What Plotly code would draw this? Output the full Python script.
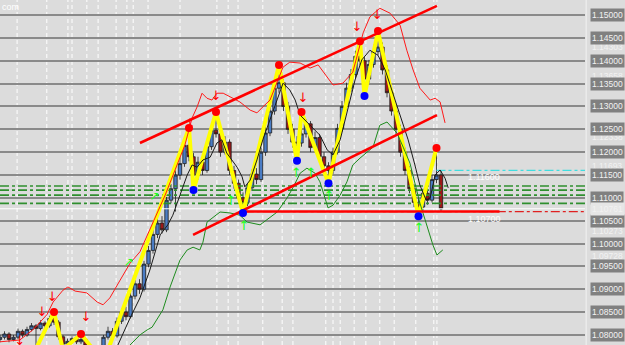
import plotly.graph_objects as go

# ---------------- data ----------------
close = [1.0795, 1.0802, 1.0790, 1.0795, 1.0808, 1.0800, 1.0812, 1.0820, 1.0814, 1.0826,
         1.0820, 1.0836, 1.0828, 1.0796, 1.0780, 1.0786, 1.0792, 1.0785, 1.0790, 1.0776,
         1.0768, 1.0772, 1.0760, 1.0795, 1.0808, 1.0798, 1.0830, 1.0850, 1.0840, 1.0885,
         1.0912, 1.0900, 1.0955, 1.0985, 1.1020, 1.1045, 1.1030, 1.1095, 1.1120, 1.1150,
         1.1175, 1.1215, 1.1190, 1.1150, 1.1178, 1.1160, 1.1212, 1.1248, 1.1240, 1.1200,
         1.1222, 1.1160, 1.1132, 1.1100, 1.1090, 1.1122, 1.1152, 1.1140, 1.1200, 1.1242,
         1.1290, 1.1340, 1.1352, 1.1300, 1.1250, 1.1222, 1.1220, 1.1240, 1.1262, 1.1210,
         1.1232, 1.1190, 1.1170, 1.1160, 1.1200, 1.1252, 1.1300, 1.1340, 1.1370, 1.1410,
         1.1400, 1.1360, 1.1392, 1.1420, 1.1430, 1.1380, 1.1330, 1.1290, 1.1250, 1.1200,
         1.1160, 1.1120, 1.1090, 1.1080, 1.1110, 1.1095, 1.1140, 1.1150, 1.1076]
opens = [1.0790] + close[:-1]
high = [1.0800, 1.0808, 1.0806, 1.0800, 1.0814, 1.0812, 1.0818, 1.0826, 1.0824, 1.0832,
        1.0830, 1.0842, 1.0850, 1.0832, 1.0800, 1.0792, 1.0797, 1.0796, 1.0802, 1.0794,
        1.0780, 1.0778, 1.0775, 1.0800, 1.0818, 1.0815, 1.0838, 1.0858, 1.0862, 1.0892,
        1.0920, 1.0922, 1.0962, 1.0995, 1.1030, 1.1055, 1.1060, 1.1102, 1.1130, 1.1165,
        1.1190, 1.1228, 1.1253, 1.1198, 1.1190, 1.1195, 1.1222, 1.1260, 1.1288, 1.1250,
        1.1235, 1.1228, 1.1170, 1.1140, 1.1112, 1.1130, 1.1162, 1.1165, 1.1210, 1.1255,
        1.1302, 1.1352, 1.1391, 1.1360, 1.1310, 1.1262, 1.1235, 1.1288, 1.1272, 1.1268,
        1.1245, 1.1240, 1.1200, 1.1178, 1.1210, 1.1262, 1.1312, 1.1352, 1.1382, 1.1422,
        1.1443, 1.1408, 1.1402, 1.1435, 1.1465, 1.1440, 1.1390, 1.1340, 1.1300, 1.1260,
        1.1210, 1.1170, 1.1130, 1.1100, 1.1120, 1.1130, 1.1150, 1.1209, 1.1160]
low = [1.0784, 1.0790, 1.0784, 1.0786, 1.0791, 1.0794, 1.0796, 1.0808, 1.0770, 1.0810,
       1.0815, 1.0816, 1.0822, 1.0790, 1.0768, 1.0774, 1.0781, 1.0780, 1.0780, 1.0770,
       1.0762, 1.0760, 1.0752, 1.0740, 1.0790, 1.0790, 1.0794, 1.0824, 1.0832, 1.0836,
       1.0878, 1.0890, 1.0895, 1.0948, 1.0978, 1.1012, 1.1022, 1.1025, 1.1088, 1.1070,
       1.1140, 1.1168, 1.1180, 1.1117, 1.1140, 1.1150, 1.1155, 1.1205, 1.1232, 1.1190,
       1.1195, 1.1150, 1.1120, 1.1090, 1.1067, 1.1082, 1.1115, 1.1130, 1.1135, 1.1192,
       1.1235, 1.1282, 1.1330, 1.1290, 1.1240, 1.1210, 1.1181, 1.1212, 1.1232, 1.1200,
       1.1202, 1.1180, 1.1160, 1.1132, 1.1152, 1.1195, 1.1245, 1.1292, 1.1332, 1.1362,
       1.1390, 1.1323, 1.1352, 1.1385, 1.1412, 1.1370, 1.1320, 1.1280, 1.1240, 1.1190,
       1.1150, 1.1110, 1.1080, 1.1060, 1.1072, 1.1085, 1.1090, 1.1132, 1.1070]
bars = list(range(len(close)))

zz_bar = [8, 12, 14, 18, 23, 42, 43, 48, 54, 62, 66, 67, 73, 80, 81, 84, 93, 97]
zz_price = [1.0770, 1.0850, 1.0768, 1.0802, 1.0740, 1.1253, 1.1117, 1.1288, 1.1067, 1.1391,
            1.1181, 1.1288, 1.1132, 1.1443, 1.1323, 1.1465, 1.1060, 1.1209]
peak_bar = [12, 18, 42, 48, 62, 67, 80, 84, 97]
peak_price = [1.0850, 1.0802, 1.1253, 1.1288, 1.1391, 1.1288, 1.1443, 1.1465, 1.1209]
trough_bar = [43, 54, 66, 73, 81, 93]
trough_price = [1.1117, 1.1067, 1.1181, 1.1132, 1.1323, 1.1060]

ma_bar = [26.2, 28.9, 31.1, 33.3, 35.6, 37.3, 38.4, 40.0, 41.6, 42.7, 43.8, 45.1, 46.7, 48.2,
          49.3, 50.4, 51.6, 52.7, 53.8, 54.4, 55.6, 57.1, 58.4, 60.0, 61.6, 62.9, 64.4, 65.6,
          66.7, 68.9, 71.1, 72.7, 74.0, 75.6, 77.3, 78.9, 80.4, 82.2, 84.0, 85.6, 87.8, 88.9,
          90.7, 92.2, 93.3, 94.7, 95.6, 96.7, 97.8, 98.9, 99.6]
ma_price = [1.0778, 1.0837, 1.0881, 1.0942, 1.1019, 1.1041, 1.1062, 1.1106, 1.1150, 1.1172,
            1.1167, 1.1183, 1.1189, 1.1220, 1.1227, 1.1198, 1.1183, 1.1167, 1.1146, 1.1124,
            1.1139, 1.1183, 1.1227, 1.1270, 1.1314, 1.1351, 1.1336, 1.1314, 1.1281, 1.1259,
            1.1237, 1.1205, 1.1194, 1.1227, 1.1292, 1.1358, 1.1402, 1.1423, 1.1412, 1.1380,
            1.1314, 1.1281, 1.1227, 1.1172, 1.1128, 1.1095, 1.1100, 1.1150, 1.1161, 1.1143,
            1.1122]

up_bar = [0, 4.4, 7.3, 8.9, 10.4, 11.8, 14.0, 15.1, 16.7, 19.3, 21.6, 22.9, 24.4, 26.7, 28.9,
          31.1, 33.3, 36.7, 38.9, 41.1, 42.7, 43.8, 44.9, 46.0, 47.1, 48.2, 49.6, 51.1, 53.3,
          55.6, 57.1, 58.4, 60.0, 62.9, 64.4, 66.7, 68.9, 70.7, 72.7, 74.0, 76.2, 78.4, 80.7,
          82.2, 84.4, 86.7, 88.9, 90.4, 91.8, 93.3, 95.6, 96.7, 97.8, 98.9]
up_price = [1.0785, 1.0789, 1.0811, 1.0828, 1.0844, 1.0872, 1.0898, 1.0905, 1.0896, 1.0892,
            1.0872, 1.0866, 1.0881, 1.0920, 1.0957, 1.0982, 1.1030, 1.1106, 1.1161, 1.1216,
            1.1275, 1.1299, 1.1329, 1.1318, 1.1314, 1.1329, 1.1329, 1.1321, 1.1310, 1.1292,
            1.1286, 1.1299, 1.1314, 1.1386, 1.1397, 1.1395, 1.1384, 1.1391, 1.1364, 1.1347,
            1.1351, 1.1375, 1.1461, 1.1496, 1.1515, 1.1504, 1.1478, 1.1423, 1.1380, 1.1340,
            1.1314, 1.1318, 1.1310, 1.1264]

lo_bar = [28.9, 31.1, 32.7, 33.8, 36.2, 37.8, 40.0, 41.6, 42.9, 44.4, 45.1, 46.0, 48.9, 51.1,
          53.3, 54.9, 57.8, 61.6, 63.8, 65.1, 66.7, 68.2, 70.0, 71.1, 72.9, 74.0, 75.6, 77.1,
          78.4, 80.0, 82.9, 84.4, 86.0, 88.2, 89.6, 91.1, 93.3, 94.9, 96.2, 97.1, 98.4]
lo_price = [1.0778, 1.0800, 1.0811, 1.0817, 1.0855, 1.0905, 1.0964, 1.0986, 1.0992, 1.0986,
            1.1003, 1.1047, 1.1069, 1.1067, 1.1062, 1.1047, 1.1041, 1.1069, 1.1100, 1.1122,
            1.1154, 1.1165, 1.1154, 1.1135, 1.1078, 1.1084, 1.1106, 1.1135, 1.1172, 1.1187,
            1.1211, 1.1259, 1.1266, 1.1242, 1.1211, 1.1176, 1.1089, 1.1036, 1.0997, 1.0975,
            1.0986]

sell_bar = [4.4, 9.3, 11.6, 19.1, 42.2, 48.0, 67.3, 79.3, 83.8]
sell_price = [1.0785, 1.0848, 1.0881, 1.0837, 1.1259, 1.1321, 1.1318, 1.1472, 1.1498]
buy_bar = [51.3, 54.2, 65.8, 69.1, 73.1, 93.1]
buy_price = [1.1091, 1.1036, 1.1152, 1.1152, 1.1102, 1.1032]
buy_diag_bar = [28.7, 34.4]
buy_diag_price = [1.0958, 1.1102]

chan_up_bar, chan_up_price = [31.1, 97.1], [1.1220, 1.1520]
chan_lo_bar, chan_lo_price = [42.9, 97.1], [1.1019, 1.1281]
support_bar, support_price = [54.4, 111.0], [1.1070, 1.1070]

green_levels = [1.1126, 1.1117, 1.1106, 1.1088]
cyan_level = 1.1160
red_level = 1.1070
current_price = 1.10761

separators = [3.8, 10.4, 15.1, 16.0, 19.3, 21.8, 25.8, 28.2, 29.6, 32.9, 40.0, 48.2, 50.7,
              52.9, 58.4, 62.7, 65.1, 72.4, 74.0, 75.6, 78.7, 81.3, 84.4, 87.6, 92.4, 96.4, 97.1]

major_ticks = [1.150, 1.145, 1.140, 1.135, 1.130, 1.125, 1.120, 1.115, 1.110, 1.105,
               1.100, 1.095, 1.090, 1.085, 1.080]
minor_labels = [1.14303, 1.13658, 1.12338, 1.11693, 1.10273, 1.09728, 1.07740]

X_RANGE = [0, 130]
Y_RANGE = [1.0778, 1.1533]

# ---------------- figure ----------------
fig = go.Figure()

for lv in green_levels:
    fig.add_trace(go.Scatter(x=X_RANGE, y=[lv, lv], mode="lines",
                             line=dict(color="#2f8f2f", width=1.6, dash="dashdot")))
fig.add_trace(go.Scatter(x=X_RANGE, y=[current_price, current_price], mode="lines",
                         line=dict(color="#ffffff", width=1)))
fig.add_trace(go.Scatter(x=[97, X_RANGE[1]], y=[cyan_level, cyan_level], mode="lines",
                         line=dict(color="#3fdde0", width=1.2, dash="dashdot")))
fig.add_trace(go.Scatter(x=[54.4, X_RANGE[1]], y=[red_level, red_level], mode="lines",
                         line=dict(color="#e02020", width=1.2, dash="dashdot")))

fig.add_trace(go.Candlestick(
    x=bars, open=opens, high=high, low=low, close=close,
    increasing=dict(fillcolor="#4a7cc4", line=dict(color="#1c1c1c", width=0.8)),
    decreasing=dict(fillcolor="#9c1818", line=dict(color="#1c1c1c", width=0.8)),
    whiskerwidth=0, hoverinfo="skip"))

fig.add_trace(go.Scatter(x=zz_bar, y=zz_price, mode="lines",
                         line=dict(color="#ffff00", width=4)))
fig.add_trace(go.Scatter(x=ma_bar, y=ma_price, mode="lines",
                         line=dict(color="#1a1a1a", width=1)))
fig.add_trace(go.Scatter(x=up_bar, y=up_price, mode="lines",
                         line=dict(color="#ff1a1a", width=1)))
fig.add_trace(go.Scatter(x=lo_bar, y=lo_price, mode="lines",
                         line=dict(color="#1e8c1e", width=1)))
fig.add_trace(go.Scatter(x=chan_up_bar, y=chan_up_price, mode="lines",
                         line=dict(color="#ff0000", width=2.6)))
fig.add_trace(go.Scatter(x=chan_lo_bar, y=chan_lo_price, mode="lines",
                         line=dict(color="#ff0000", width=2.6)))
fig.add_trace(go.Scatter(x=support_bar, y=support_price, mode="lines",
                         line=dict(color="#ff0000", width=2.6)))

fig.add_trace(go.Scatter(x=peak_bar, y=peak_price, mode="markers",
                         marker=dict(color="#ff0000", size=8)))
fig.add_trace(go.Scatter(x=trough_bar, y=trough_price, mode="markers",
                         marker=dict(color="#0000ff", size=8)))
fig.add_trace(go.Scatter(x=sell_bar, y=sell_price, mode="text", text=["↓"] * len(sell_bar),
                         textfont=dict(color="#ff0000", size=13, family="DejaVu Sans")))
fig.add_trace(go.Scatter(x=buy_bar, y=buy_price, mode="text", text=["↑"] * len(buy_bar),
                         textfont=dict(color="#22ff22", size=13, family="DejaVu Sans")))
fig.add_trace(go.Scatter(x=buy_diag_bar, y=buy_diag_price, mode="text",
                         text=["↗"] * len(buy_diag_bar),
                         textfont=dict(color="#22ff22", size=12, family="DejaVu Sans")))

shapes = []
for s in separators:
    shapes.append(dict(type="line", xref="x", yref="paper", x0=s, x1=s, y0=0, y1=1,
                       layer="below", line=dict(color="#ffffff", width=1, dash="4px,3px")))
shapes.append(dict(type="line", xref="paper", yref="paper", x0=1.002, x1=1.002, y0=0, y1=1,
                   line=dict(color="#f2f2f2", width=1)))

annotations = []
lab_font = dict(family="Liberation Sans", size=8.5, color="#f2f2f2")
# faint secondary price labels first, so the boxed major labels sit on top
for t in minor_labels:
    annotations.append(dict(xref="paper", yref="y", x=1, y=t, xanchor="left", yanchor="middle",
                            xshift=5, text=f"{t:.5f}", showarrow=False, font=lab_font))
for t in major_ticks:
    annotations.append(dict(xref="paper", yref="y", x=1, y=t, xanchor="left", yanchor="middle",
                            xshift=5, text=f"{t:.5f}", showarrow=False, bgcolor="#808080",
                            borderpad=1, font=lab_font))
annotations.append(dict(xref="paper", yref="y", x=1, y=current_price, xanchor="left",
                        yanchor="middle", xshift=5, text=f"{current_price:.5f}",
                        showarrow=False, bgcolor="#e6e6e6", borderpad=1, font=lab_font))
annotations.append(dict(xref="x", yref="y", x=103.5, y=cyan_level, xanchor="left",
                        yanchor="top", text=f"{cyan_level:.5f}", showarrow=False,
                        font=dict(family="Liberation Sans", size=9, color="#ffffff")))
annotations.append(dict(xref="x", yref="y", x=103.5, y=red_level, xanchor="left",
                        yanchor="top", text=f"{red_level:.5f}", showarrow=False,
                        font=dict(family="Liberation Sans", size=9, color="#ffffff")))
annotations.append(dict(xref="paper", yref="paper", x=0, y=1, xanchor="left", yanchor="top",
                        text="com", showarrow=False,
                        font=dict(family="Liberation Sans", size=9, color="#ffffff")))

fig.update_layout(
    width=625, height=345, margin=dict(l=0, r=40, t=0, b=0),
    paper_bgcolor="#dcdcdc", plot_bgcolor="#dcdcdc",
    showlegend=False, boxgap=0.25, boxgroupgap=0,
    shapes=shapes, annotations=annotations,
    xaxis=dict(range=X_RANGE, showgrid=False, zeroline=False, showticklabels=False,
               rangeslider=dict(visible=False), fixedrange=True),
    yaxis=dict(range=Y_RANGE, side="right", showgrid=True, gridcolor="#8a8a8a", gridwidth=1.5,
               tick0=1.08, dtick=0.005, showticklabels=False, zeroline=False, ticks=""),
)

fig.write_html("out.html")
